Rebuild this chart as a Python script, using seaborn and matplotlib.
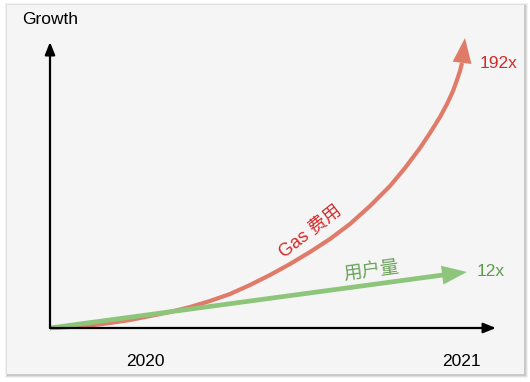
import matplotlib
matplotlib.use("Agg")
import matplotlib.pyplot as plt
import seaborn as sns
import pandas as pd
from matplotlib.patches import FancyBboxPatch

# ---- data (arbitrary concept units: time from 2020 origin, growth) ----
gas_time = [0, 20, 40, 60, 80, 100, 120, 140, 160, 180, 200, 220, 240, 260, 280, 300,
            320, 340, 355, 370, 380, 390, 397, 403, 407, 410, 412, 415]
gas_growth = [0, 1, 2.5, 5, 8, 12, 16, 21, 27, 34, 43, 53, 64, 76, 89, 104,
              122, 142, 160, 180, 195, 211, 224, 237, 248, 257, 265, 290]
user_time = [0, 393, 417]
user_growth = [0, 53, 56]
year_labels = ["2020", "2021"]
year_pos = [95, 411]
gas_label = "Gas 费用"
user_label = "用户量"
gas_mult = "192x"
user_mult = "12x"
y_title = "Growth"

sns.set_style("white")
plt.rcParams["font.family"] = ["Liberation Sans", "Noto Sans CJK SC", "DejaVu Sans"]

W, H = 530, 382
fig = plt.figure(figsize=(W / 100, H / 100), dpi=100)
fig.patch.set_facecolor("white")

# panel with soft shadow
px0, py0, px1, py1 = 7, 5, 524, 374
for i, a in enumerate([0.05, 0.07, 0.10]):
    off = 3 - i
    fig.patches.append(FancyBboxPatch(((px0 - off + 1) / W, (H - py1 - off - 1) / H),
                                      (px1 - px0 + 2 * off) / W, (py1 - py0 + 2 * off) / H,
                                      boxstyle="square,pad=0", transform=fig.transFigure,
                                      facecolor="black", edgecolor="none", alpha=a, zorder=-3))
fig.patches.append(FancyBboxPatch((px0 / W, (H - py1) / H), (px1 - px0) / W, (py1 - py0) / H,
                                  boxstyle="square,pad=0", transform=fig.transFigure,
                                  facecolor="#f5f5f5", edgecolor="none", zorder=-2))

ax = fig.add_axes([0, 0, 1, 1])
ax.set_zorder(1)
ax.set_facecolor("none")
ax.set_xlim(-50, W - 50)
ax.set_ylim(-(H - 328), 328)
ax.axis("off")

# axes arrows
axis_kw = dict(arrowstyle="-|>,head_length=0.75,head_width=0.3", color="black", lw=1.6,
               shrinkA=0, shrinkB=0, mutation_scale=10)
ax.annotate("", xy=(0, 286), xytext=(0, 0), arrowprops=axis_kw)
ax.annotate("", xy=(446, 0), xytext=(0, 0), arrowprops=axis_kw)

red_line = "#e07b6a"
green_line = "#8dc57b"

gas_df = pd.DataFrame({"t": gas_time[:-1], "g": gas_growth[:-1]})
user_df = pd.DataFrame({"t": user_time[:-1], "g": user_growth[:-1]})
sns.lineplot(data=gas_df, x="t", y="g", sort=False, color=red_line, lw=3.0, ax=ax,
             solid_capstyle="butt", solid_joinstyle="round")
sns.lineplot(data=user_df, x="t", y="g", sort=False, color=green_line, lw=3.4, ax=ax,
             solid_capstyle="butt")
ax.set_xlabel("")
ax.set_ylabel("")

head_kw = dict(arrowstyle="-|>,head_length=1.8,head_width=0.68", lw=0,
               shrinkA=0, shrinkB=0, mutation_scale=10)
ax.annotate("", xy=(gas_time[-1], gas_growth[-1]), xytext=(gas_time[-2], gas_growth[-2]),
            arrowprops=dict(color=red_line, **head_kw))
ax.annotate("", xy=(user_time[-1], user_growth[-1]), xytext=(user_time[-2], user_growth[-2]),
            arrowprops=dict(color=green_line, **head_kw))

# texts
ax.text(0, 308, y_title, ha="center", va="center", fontsize=12.5, color="black")
for lab, xp in zip(year_labels, year_pos):
    ax.text(xp, -34, lab, ha="center", va="center", fontsize=12.5, color="black")
ax.text(449, 265, gas_mult, ha="center", va="center", fontsize=12.5, color="#d42a2a")
ax.text(441, 56, user_mult, ha="center", va="center", fontsize=12.5, color="#5d9e4c")
ax.text(261, 96, gas_label, ha="center", va="center", fontsize=13, color="#d42a2a",
        rotation=38, rotation_mode="anchor")
ax.text(321, 57, user_label, ha="center", va="center", fontsize=13.5, color="#6aa25a",
        rotation=8, rotation_mode="anchor")

fig.savefig("out.png", dpi=100, facecolor="white")
